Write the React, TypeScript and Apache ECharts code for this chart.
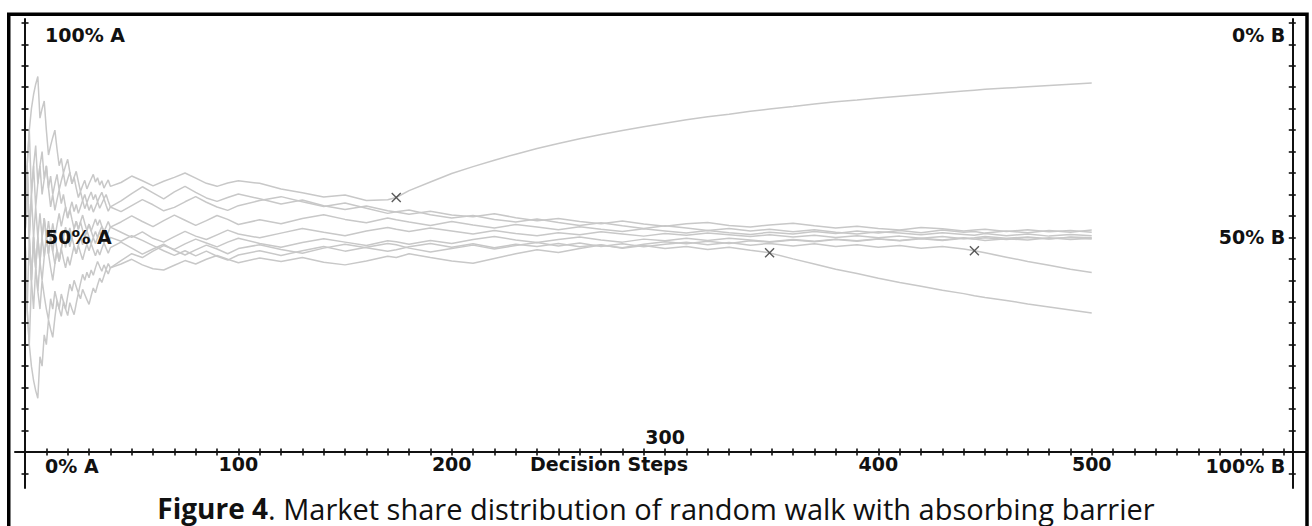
import { useEffect, useRef } from "react";
import * as echarts from "echarts";

// Decision step at which each sample is recorded (dense early, sparser later).
const STEPS = [
  0, 1, 2, 3, 4, 5, 6, 7, 8, 9, 10, 11, 12, 13, 14, 15, 16, 17, 18, 19, 20,
  21, 22, 23, 24, 25, 26, 27, 28, 29, 30, 31, 32, 33, 34, 35, 36, 37, 38, 39, 40,
  45, 50, 55, 60, 65, 70, 75, 80, 85, 90, 95, 100,
  110, 120, 130, 140, 150, 160, 170,
  174,
  180, 190, 200, 210, 220, 230, 240, 250, 260, 270, 280, 290, 300, 310, 320, 330, 340,
  349,
  360, 370, 380, 390, 400, 410, 420, 430, 440,
  445,
  450, 460, 470, 480, 490, 500,
];

// Market share of A (%) along each walk, one value per entry of STEPS.
const WALK_1 = [
  50, 66.7, 50, 60, 66.7, 57.1, 62.5, 66.7, 60, 63.6, 66.7, 61.5, 64.3, 60, 62.5, 64.7, 61.1, 63.2, 65, 61.9, 63.6,
  65.2, 62.5, 64, 65.4, 63, 60.7, 62.1, 63.3, 61.3, 62.5, 63.6, 64.7, 62.9, 63.9, 62.2, 63.2, 61.5, 62.5, 63.4, 61.9,
  62.8, 64.3, 63.2, 62.0, 63.1, 64.0, 65.0, 63.8, 62.6, 61.9, 62.7, 63.2,
  62.6, 61.3, 60.4, 59.4, 59.9, 58.6, 58.8,
  59.3,
  60.9, 62.9, 64.9, 66.5, 68.0, 69.4, 70.7, 71.9, 73.0, 74.0, 74.9, 75.8, 76.6, 77.4, 78.1, 78.7, 79.4,
  79.9,
  80.5, 81.1, 81.6, 82.0, 82.5, 82.9, 83.3, 83.7, 84.1,
  84.3,
  84.5, 84.8, 85.1, 85.4, 85.7, 86.0,
];

const WALK_2 = [
  50, 33.3, 25, 40, 50, 42.9, 37.5, 44.4, 50, 45.5, 50, 46.2, 42.9, 40, 43.8, 47.1, 44.4, 47.4, 45, 42.9, 45.5,
  43.5, 45.8, 48, 46.2, 48.1, 46.4, 44.8, 46.7, 48.4, 46.9, 48.5, 47.1, 45.7, 47.2, 45.9, 47.4, 48.7, 47.5, 46.3, 47.6,
  48.9, 47.5, 46.1, 47.3, 48.4, 47.0, 45.9, 47.1, 48.2, 47.3, 46.2, 47.4,
  48.3, 47.2, 46.3, 47.5, 48.4, 47.6, 46.8,
  47.1,
  47.8, 48.6, 47.7, 48.5, 47.6, 48.4, 47.9, 48.6, 47.8, 48.3, 47.5, 48.1, 47.4, 47.9, 47.2, 47.7, 47.0,
  46.4,
  45.0, 43.8, 42.6, 41.6, 40.5, 39.5, 38.6, 37.7, 36.9,
  36.4,
  36.0, 35.3, 34.5, 33.8, 33.1, 32.4,
];

const WALK_3 = [
  50, 66.7, 50, 40, 50, 57.1, 50, 44.4, 50, 54.5, 50, 53.8, 50, 46.7, 50, 47.1, 44.4, 47.4, 50, 52.4, 50,
  47.8, 50, 48, 46.2, 48.1, 50, 48.3, 50, 51.6, 50, 48.5, 50, 48.6, 50, 51.4, 50, 48.7, 50, 48.8, 50,
  49.1, 50.4, 49.3, 48.1, 46.9, 45.8, 46.9, 45.7, 46.8, 45.6, 44.7, 45.9,
  46.9, 45.8, 46.9, 47.9, 46.8, 47.7, 48.6,
  48.3,
  47.5, 46.6, 47.4, 48.2, 47.3, 48.1, 48.8, 48.0, 48.7, 47.9, 48.5, 47.8, 48.4, 48.9, 48.3, 48.8, 48.2,
  48.6,
  48.0, 48.5, 47.9, 48.3, 47.7, 48.1, 47.5, 47.9, 47.3,
  46.9,
  46.4, 45.4, 44.4, 43.5, 42.6, 41.8,
];

const WALK_4 = [
  50, 66.7, 75, 80, 83.3, 85.7, 87.5, 77.8, 80, 81.8, 75, 69.2, 71.4, 73.3, 75, 70.6, 66.7, 68.4, 65, 66.7, 68.2,
  65.2, 62.5, 64, 61.5, 59.3, 60.7, 58.6, 56.7, 58.1, 56.3, 57.6, 55.9, 57.1, 58.3, 56.8, 57.9, 59, 57.5, 56.1, 57.1,
  58.5, 60.2, 61.8, 60.4, 59.0, 60.6, 61.9, 60.5, 59.2, 58.4, 59.3, 60.1,
  59.0, 57.8, 58.7, 57.4, 56.5, 57.3, 56.2,
  55.9,
  55.4, 56.1, 55.2, 54.8, 55.5, 54.6, 53.9, 54.4, 53.7, 53.2, 53.8, 53.1, 52.6, 53.2, 53.5, 52.8, 52.4,
  52.9,
  53.3, 52.7, 52.2, 52.6, 52.1, 51.7, 52.3, 52.0, 51.5,
  51.7,
  51.9, 51.4, 51.8, 51.3, 51.6, 51.2,
];

const WALK_5 = [
  50, 33.3, 25, 20, 16.7, 14.3, 12.5, 22.2, 20, 27.3, 25, 30.8, 28.6, 26.7, 31.3, 35.3, 33.3, 36.8, 35, 33.3, 36.4,
  39.1, 37.5, 40, 38.5, 37, 39.3, 41.4, 40, 41.9, 40.6, 42.4, 41.2, 42.9, 44.4, 43.2, 42.1, 43.6, 42.5, 43.9, 42.9,
  43.8, 44.9, 43.6, 42.7, 42.4, 43.5, 44.6, 43.8, 44.9, 45.8, 44.9, 44.1,
  45.2, 44.4, 45.3, 44.2, 43.6, 44.5, 45.6,
  45.3,
  46.2, 45.3, 44.5, 44.0, 45.1, 46.2, 47.1, 46.5, 47.4, 48.2, 47.6, 48.4, 49.0, 48.5, 49.1, 48.6, 49.2,
  48.9,
  49.4, 49.0, 49.5, 49.1, 49.6, 49.2, 49.7, 49.3, 49.8,
  49.6,
  49.9, 49.5, 50.0, 49.6, 50.1, 49.9,
];

const WALK_6 = [
  50, 66.7, 75, 60, 66.7, 71.4, 62.5, 66.7, 70, 63.6, 66.7, 61.5, 57.1, 60, 56.3, 58.8, 61.1, 57.9, 60, 57.1, 54.5,
  56.5, 58.3, 56, 57.7, 55.6, 57.1, 58.6, 60, 58.1, 59.4, 60.6, 58.8, 60, 58.3, 59.5, 60.5, 59, 60, 58.5, 57.1,
  56.0, 57.4, 58.8, 57.6, 56.2, 57.0, 58.3, 59.5, 58.2, 57.1, 56.3, 57.4,
  58.6, 59.5, 58.3, 57.2, 58.0, 56.8, 55.6,
  56.0,
  56.4, 55.3, 54.5, 55.1, 54.2, 53.6, 54.3, 53.5, 52.8, 53.4, 52.7, 52.1, 52.7, 52.2, 51.6, 52.1, 51.5,
  51.9,
  51.3, 51.8, 51.2, 50.8, 51.3, 51.0, 50.6, 51.1, 50.7,
  50.5,
  50.9, 50.4, 50.8, 50.3, 50.7, 50.4,
];

const WALK_7 = [
  50, 33.3, 50, 40, 50, 42.9, 50, 55.6, 50, 54.5, 50, 46.2, 50, 53.3, 50, 52.9, 55.6, 52.6, 55, 57.1, 54.5,
  56.5, 54.2, 52, 53.8, 51.9, 53.6, 51.7, 50, 51.6, 53.1, 51.5, 52.9, 54.3, 52.8, 54.1, 52.6, 51.3, 52.5, 53.7, 52.4,
  51.2, 50.0, 51.3, 49.8, 48.9, 50.2, 51.4, 50.3, 49.5, 50.6, 51.7, 50.8,
  49.9, 51.0, 52.1, 51.2, 50.4, 51.5, 52.3,
  51.9,
  51.4, 52.2, 51.5, 50.8, 51.6, 50.9, 50.4, 51.1, 50.6, 51.3, 50.8, 50.3, 50.9, 50.5, 51.0, 50.6, 50.2,
  50.6,
  50.1, 50.5, 50.0, 50.4, 49.9, 50.3, 49.8, 50.2, 49.7,
  49.9,
  50.2, 49.8, 50.1, 49.7, 50.0, 49.6,
];

const WALK_8 = [
  50, 66.7, 50, 40, 33.3, 42.9, 37.5, 33.3, 40, 36.4, 33.3, 30.8, 35.7, 33.3, 37.5, 35.3, 33.3, 31.6, 35, 33.3, 31.8,
  34.8, 33.3, 32, 34.6, 37, 35.7, 37.9, 36.7, 35.5, 34.4, 36.4, 38.2, 37.1, 38.9, 40.5, 39.5, 41, 42.5, 41.5, 42.9,
  44.6, 46.2, 45.3, 46.8, 48.1, 47.2, 48.5, 49.6, 48.7, 47.8, 48.9, 49.8,
  48.6, 47.7, 48.8, 49.7, 48.9, 48.1, 49.2,
  49.0,
  48.4, 49.3, 48.6, 49.5, 50.2, 49.4, 48.8, 49.5, 50.1, 49.4, 48.9, 49.6, 49.2, 49.8, 49.3, 49.8, 49.4,
  49.0,
  49.5, 49.1, 49.6, 49.2, 49.7, 49.3, 49.8, 49.4, 49.9,
  49.6,
  49.3, 49.7, 49.4, 49.9, 49.5, 49.8,
];

const WALK_9 = [
  50, 66.7, 50, 60, 50, 42.9, 50, 44.4, 40, 45.5, 50, 46.2, 50, 46.7, 43.8, 47.1, 44.4, 47.4, 50, 47.6, 50,
  52.2, 50, 52, 53.8, 51.9, 53.6, 55.2, 53.3, 51.6, 53.1, 51.5, 50, 51.4, 50, 51.4, 52.6, 51.3, 50, 51.2, 52.4,
  53.6, 55.0, 53.7, 52.5, 53.9, 55.2, 54.0, 52.8, 53.9, 55.1, 54.2, 53.0,
  54.1, 53.2, 54.4, 55.3, 54.2, 53.4, 54.5,
  54.1,
  53.6, 52.8, 53.7, 52.9, 52.2, 53.0, 52.4, 51.8, 52.5, 51.9, 51.4, 52.0, 51.5, 51.0, 51.6, 51.1, 50.7,
  51.2,
  50.8, 51.4, 50.9, 51.5, 51.0, 51.6, 51.1, 51.7, 51.2,
  51.4,
  51.0, 51.5, 51.1, 51.6, 51.2, 51.7,
];

const WALKS = [WALK_1, WALK_2, WALK_3, WALK_4, WALK_5, WALK_6, WALK_7, WALK_8, WALK_9];

// Walks that hit the absorbing barrier, and the step where it happened.
const ABSORBED = [
  { walk: WALK_1, step: 174 },
  { walk: WALK_2, step: 349 },
  { walk: WALK_3, step: 445 },
];

// Axis annotations.
const STEP_LABELS = [100, 200, 400, 500];
const RAISED_STEP_LABELS = [300];
const SHARE_LABELS = [0, 50, 100];
const STEP_TICK_EVERY = 10;
const STEP_TICK_LAST = 590;
const SHARE_TICK_EVERY = 5;

const CAPTION_BOLD = "Figure 4";
const CAPTION_REST = ". Market share distribution of random walk with absorbing barrier";

// Plot extents: steps on x, share of A on y; the B axis sits at B_AXIS_STEP.
const X_MIN = -4.7;
const X_MAX = 600.9;
const Y_MIN = -8.4;
const Y_MAX = 100.9;
const B_AXIS_STEP = 594;

const W = 1312;
const H = 526;
const GRID = { left: 15, right: 5, top: 19, bottom: 38 };

export default function App() {
  const ref = useRef<HTMLDivElement>(null);

  useEffect(() => {
    if (!ref.current) return;
    const chart = echarts.init(ref.current, null, { renderer: "svg" });

    // Axes sit inside the grid: the step axis at A = 0, the A axis at step 0,
    // the B axis at B_AXIS_STEP. Offsets move them there from the grid edges.
    const plotW = W - GRID.left - GRID.right;
    const plotH = H - GRID.top - GRID.bottom;
    const pxPerStep = plotW / (X_MAX - X_MIN);
    const pxPerShare = plotH / (Y_MAX - Y_MIN);
    const leftOffset = X_MIN * pxPerStep; // negative: moves inward
    const rightOffset = -(X_MAX - B_AXIS_STEP) * pxPerStep;
    const bottomOffset = Y_MIN * pxPerShare; // negative: moves up to A = 0

    const stepTicks: number[] = [];
    for (let s = 0; s <= STEP_TICK_LAST; s += STEP_TICK_EVERY) stepTicks.push(s);
    const shareTicksA: number[] = [];
    for (let v = -5; v <= 100; v += SHARE_TICK_EVERY) shareTicksA.push(v);
    const shareTicksB: number[] = [];
    for (let v = 0; v <= 105; v += SHARE_TICK_EVERY) shareTicksB.push(v);

    const FONT = "'DejaVu Sans', sans-serif";
    const axisText = { fontFamily: FONT, fontWeight: "bold" as const, fontSize: 19, color: "#111" };
    const ink = "#111";
    const tickLine = { color: ink, width: 1.6 };
    const TICK_LEN = 3.5;

    const shiftDown = (pad: number) => ({ ...axisText, padding: [pad, 0, 0, 0] });

    const stepAxisBase = {
      type: "value",
      min: X_MIN,
      max: X_MAX,
      position: "bottom",
      offset: bottomOffset,
      splitLine: { show: false },
      z: 5,
    };
    const shareAxisA = {
      type: "value",
      min: Y_MIN,
      max: Y_MAX,
      position: "left",
      offset: leftOffset,
      splitLine: { show: false },
      z: 5,
    };
    const shareAxisB = {
      type: "value",
      inverse: true,
      min: 100 - Y_MAX,
      max: 100 - Y_MIN,
      position: "right",
      offset: rightOffset,
      splitLine: { show: false },
      z: 5,
    };

    const option: echarts.EChartsOption = {
      animation: false,
      grid: { ...GRID, containLabel: false, outerBoundsMode: "none" } as any,
      xAxis: [
        {
          ...stepAxisBase,
          axisLine: { show: true, onZero: false, lineStyle: { color: ink, width: 2 } },
          axisTick: { show: true, inside: false, length: TICK_LEN, customValues: stepTicks, lineStyle: tickLine },
          axisLabel: { show: true, customValues: STEP_LABELS, margin: 3, ...axisText },
          name: "Decision Steps",
          nameLocation: "middle",
          nameGap: 3,
          nameMoveOverlap: false,
          nameTextStyle: { ...axisText, padding: [0, 104, 0, 0], verticalAlign: "top" },
        } as any,
        {
          ...stepAxisBase,
          axisLine: { show: false, onZero: false },
          axisTick: { show: true, inside: true, length: TICK_LEN, customValues: stepTicks, lineStyle: tickLine },
          axisLabel: { show: true, inside: true, customValues: RAISED_STEP_LABELS, margin: 5, ...axisText },
        } as any,
      ],
      yAxis: [
        {
          ...shareAxisA,
          axisLine: { show: true, onZero: false, lineStyle: { color: ink, width: 2 } },
          axisTick: { show: true, inside: false, length: TICK_LEN, customValues: shareTicksA, lineStyle: tickLine },
          axisLabel: {
            show: true,
            inside: true,
            margin: 20,
            customValues: SHARE_LABELS,
            ...axisText,
            formatter: (v: number) =>
              v === 100 ? `{hi|${v}% A}` : v === 0 ? `{lo|${v}% A}` : `${v}% A`,
            rich: { hi: shiftDown(25), lo: shiftDown(28) },
          },
        } as any,
        {
          ...shareAxisA,
          axisLine: { show: false, onZero: false },
          axisTick: { show: true, inside: true, length: TICK_LEN, customValues: shareTicksA, lineStyle: tickLine },
          axisLabel: { show: false },
        } as any,
        {
          ...shareAxisB,
          axisLine: { show: true, onZero: false, lineStyle: { color: ink, width: 2 } },
          axisTick: { show: true, inside: false, length: TICK_LEN, customValues: shareTicksB, lineStyle: tickLine },
          axisLabel: {
            show: true,
            inside: true,
            margin: 7,
            customValues: SHARE_LABELS,
            ...axisText,
            formatter: (v: number) =>
              v === 0 ? `{hi|${v}% B}` : v === 100 ? `{lo|${v}% B}` : `${v}% B`,
            rich: { hi: shiftDown(25), lo: shiftDown(28) },
          },
        } as any,
        {
          ...shareAxisB,
          axisLine: { show: false, onZero: false },
          axisTick: { show: true, inside: true, length: TICK_LEN, customValues: shareTicksB, lineStyle: tickLine },
          axisLabel: { show: false },
        } as any,
      ],
      series: [
        ...WALKS.map((walk) => ({
          type: "line" as const,
          xAxisIndex: 0,
          yAxisIndex: 0,
          data: STEPS.map((s, i) => [s, walk[i]]),
          showSymbol: false,
          symbol: "none",
          silent: true,
          lineStyle: { color: "#c8c8c8", width: 1.5 },
          z: 2,
        })),
        {
          type: "scatter",
          xAxisIndex: 0,
          yAxisIndex: 0,
          data: ABSORBED.map((a) => [a.step, a.walk[STEPS.indexOf(a.step)]]),
          symbol: "path://M0,0L10,10M10,0L0,10",
          symbolSize: 9,
          silent: true,
          itemStyle: { color: "none", borderColor: "#333", borderWidth: 1.4 },
          z: 4,
        },
      ],
      graphic: [
        {
          type: "rect",
          shape: { x: 8.75, y: 14.3, width: 1298.25, height: 600 },
          style: { fill: "none", stroke: "#000", lineWidth: 3.5 },
          silent: true,
        },
        {
          type: "text",
          x: W / 2,
          y: 508,
          style: {
            text: `{b|${CAPTION_BOLD}}{r|${CAPTION_REST}}`,
            fontFamily: "'Open Sans', sans-serif",
            fontSize: 28,
            fill: "#111",
            align: "center",
            verticalAlign: "middle",
            rich: {
              b: { fontFamily: "'Open Sans', sans-serif", fontSize: 28, fontWeight: "bold", fill: "#111" },
              r: { fontFamily: "'Open Sans', sans-serif", fontSize: 29, fill: "#111" },
            },
          },
          silent: true,
        },
      ],
    };

    chart.setOption(option);
    return () => chart.dispose();
  }, []);

  return (
    <div
      ref={ref}
      style={{ position: "absolute", left: 0, top: 0, width: W, height: H, background: "#fff" }}
    />
  );
}
